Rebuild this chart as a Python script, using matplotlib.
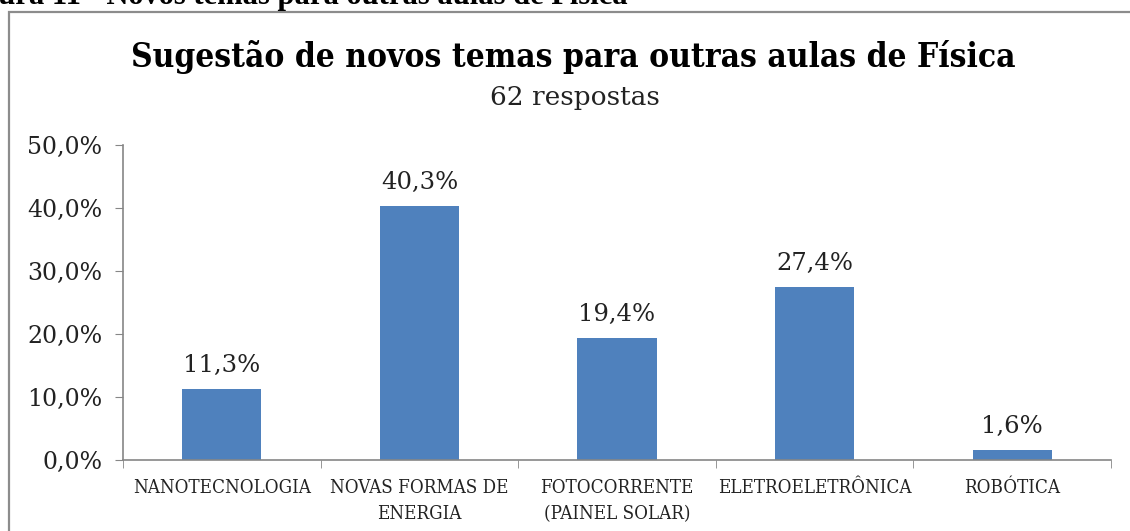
import matplotlib

matplotlib.use("Agg")
import matplotlib.pyplot as plt
from matplotlib.patches import Rectangle
from matplotlib.ticker import FuncFormatter

# dados da pesquisa (62 respostas)
categorias = ["NANOTECNOLOGIA", "NOVAS FORMAS DE\nENERGIA", "FOTOCORRENTE\n(PAINEL SOLAR)",
              "ELETROELETRÔNICA", "ROBÓTICA"]
percentuais = [11.3, 40.3, 19.4, 27.4, 1.6]
yticks = [0, 10, 20, 30, 40, 50]

SERIF = ["DejaVu Serif"]
AZUL = "#4F81BD"
CINZA = "#868686"

W, H = 1130, 531
fig = plt.figure(figsize=(W / 100, H / 100), dpi=100)


def px(x, y):
    # pixel (origem no topo) -> coordenadas da figura
    return x / W, 1 - y / H


# legenda da figura no documento, cortada no topo
fig.text(*px(628, 4), "Figura 11 - Novos temas para outras aulas de Física", ha="right",
         va="baseline", fontsize=22, fontweight="bold", family=["Liberation Serif"])

# moldura do gráfico
fig.patches.append(Rectangle(px(9, 540), 1200 / W, 528 / H, transform=fig.transFigure,
                             fill=False, edgecolor="#8c8c8c", linewidth=1.6))

ax = fig.add_axes([123 / W, 71 / H, 988 / W, 315 / H])
x = range(len(categorias))
barras = ax.bar(x, percentuais, width=0.4, color=AZUL)

for b, v in zip(barras, percentuais):
    ax.text(b.get_x() + b.get_width() / 2, v + 1.9, f"{v:.1f}%".replace(".", ","),
            ha="center", va="bottom", fontsize=17.5, family=SERIF, color="#222222")

ax.set_xlim(-0.5, len(categorias) - 0.5)
ax.set_ylim(0, 50)
ax.set_yticks(yticks)
ax.yaxis.set_major_formatter(FuncFormatter(lambda v, _: f"{v:.1f}%".replace(".", ",")))
ax.set_xticks(list(x))
ax.set_xticklabels(categorias, fontsize=13.5, family=SERIF, fontstretch="condensed",
                   linespacing=1.55, color="#222222")
ax.set_xticks([i - 0.5 for i in range(len(categorias) + 1)], minor=True)
ax.tick_params(axis="x", which="major", length=0, pad=14)
ax.tick_params(axis="x", which="minor", length=6, color=CINZA, direction="out")
ax.tick_params(axis="y", length=6, color=CINZA, pad=9, labelsize=17, labelcolor="#222222")
for t in ax.get_yticklabels():
    t.set_family(SERIF)

for lado in ("top", "right"):
    ax.spines[lado].set_visible(False)
for lado in ("left", "bottom"):
    ax.spines[lado].set_color(CINZA)
    ax.spines[lado].set_linewidth(1.2)

fig.text(*px(573, 57), "Sugestão de novos temas para outras aulas de Física", ha="center",
         va="center", fontsize=24, fontweight="bold", family=SERIF, fontstretch="condensed")
fig.text(*px(575, 97), "62 respostas", ha="center", va="center", fontsize=19, family=SERIF,
         color="#222222")

fig.savefig("out.png", dpi=100)
